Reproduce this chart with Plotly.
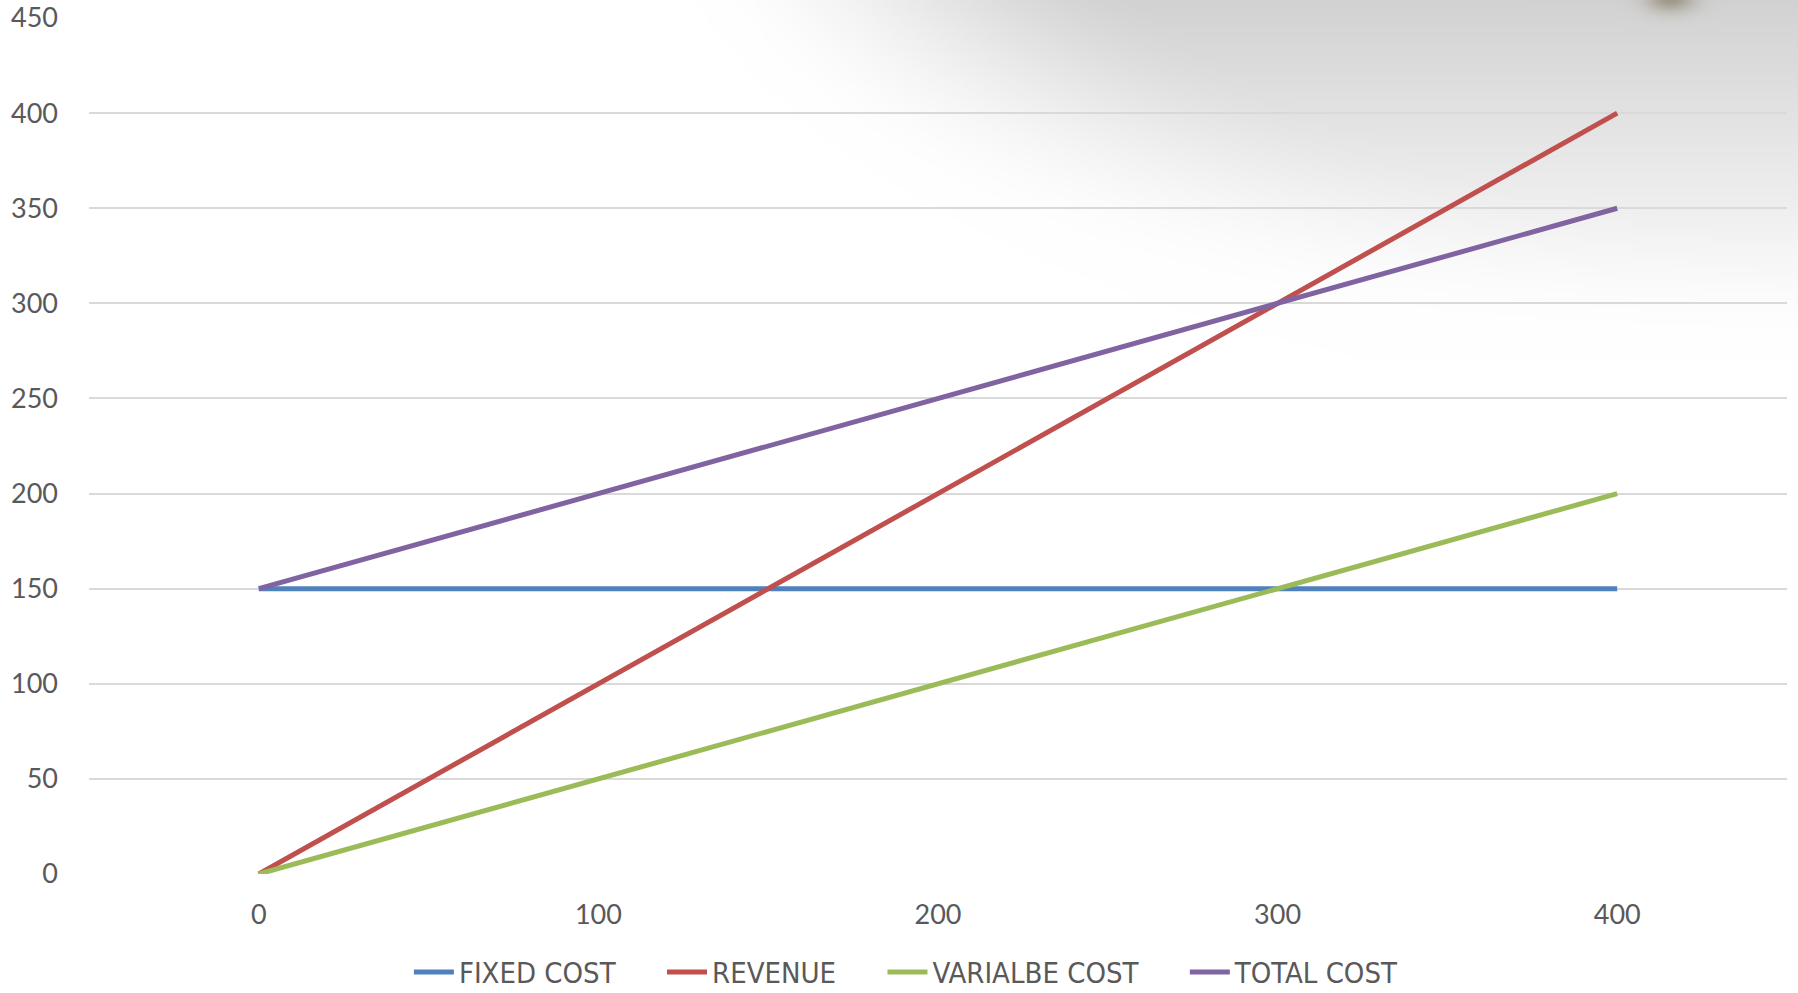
import base64
import struct
import zlib

import numpy as np
import plotly.graph_objects as go

# Break-even chart data
units = [0, 100, 200, 300, 400]
fixed_cost = [150, 150, 150, 150, 150]
revenue = [0, 100, 200, 300, 400]
variable_cost = [0, 50, 100, 150, 200]
total_cost = [150, 200, 250, 300, 350]

series_names = ["FIXED COST", "REVENUE", "VARIALBE COST", "TOTAL COST"]
series_colors = ["#4F81BD", "#C0504D", "#9BBB59", "#8064A2"]

W, H = 1798, 993
NBSP = "\u00a0"


def png_data_uri(rgb):
    """Encode an HxWx3 uint8 array as a PNG data URI."""
    h, w, _ = rgb.shape
    raw = b"".join(b"\x00" + rgb[i].tobytes() for i in range(h))

    def chunk(tag, data):
        c = struct.pack(">I", len(data)) + tag + data
        return c + struct.pack(">I", zlib.crc32(tag + data) & 0xFFFFFFFF)

    png = b"\x89PNG\r\n\x1a\n"
    png += chunk(b"IHDR", struct.pack(">IIBBBBB", w, h, 8, 2, 0, 0, 0))
    png += chunk(b"IDAT", zlib.compress(raw, 9))
    png += chunk(b"IEND", b"")
    return "data:image/png;base64," + base64.b64encode(png).decode()


def smoothstep(v):
    v = np.clip(v, 0, 1)
    return v * v * (3 - 2 * v)


# Soft grey backdrop in the upper-right corner
scale = 3
gw, gh = W // scale, H // scale
yy, xx = np.mgrid[0:gh, 0:gw].astype(float) * scale
d = np.sqrt(((xx - 1900) / 1250) ** 2 + ((yy + 150) / 560) ** 2)
edge = smoothstep((1 - d) / 0.35)
fall = np.clip(1 - yy / 360, 0, 1) ** 1.2
t = edge * fall
img = np.stack([255 - 45 * t] * 3, axis=-1)

# small ornament peeking in at the top edge
blob = np.exp(-(((xx - 1668) / 24) ** 2 + ((yy + 4) / 14) ** 2))
tint = np.array([130, 122, 96], dtype=float)
a = blob[..., None] * 0.7
img = img * (1 - a) + tint * a
backdrop = png_data_uri(np.clip(img, 0, 255).astype(np.uint8))

fig = go.Figure()
all_values = [fixed_cost, revenue, variable_cost, total_cost]
for i, (name, values, color) in enumerate(zip(series_names, all_values, series_colors)):
    label = name + (NBSP * 5 if i < len(series_names) - 1 else "")
    fig.add_trace(
        go.Scatter(
            x=units,
            y=values,
            name=label,
            mode="lines",
            line=dict(color=color, width=5, shape="linear"),
        )
    )

fig.update_layout(
    width=W,
    height=H,
    margin=dict(l=89, r=11, t=18, b=119, autoexpand=False),
    paper_bgcolor="white",
    plot_bgcolor="rgba(0,0,0,0)",
    font=dict(family="Lato, Open Sans, sans-serif", size=27, color="#595959"),
    showlegend=True,
    legend=dict(
        orientation="h",
        xref="container",
        yref="container",
        x=0.5044,
        xanchor="center",
        y=0.021,
        yanchor="middle",
        font=dict(
            family="Liberation Sans Narrow, DejaVu Sans Condensed, sans-serif",
            size=29,
            color="#595959",
        ),
        itemwidth=40,
        bgcolor="rgba(0,0,0,0)",
    ),
    images=[
        dict(
            source=backdrop,
            xref="paper",
            yref="paper",
            x=-89 / (W - 100),
            y=1 + 18 / (H - 137),
            sizex=W / (W - 100),
            sizey=H / (H - 137),
            xanchor="left",
            yanchor="top",
            sizing="stretch",
            layer="below",
        )
    ],
)

fig.update_xaxes(
    range=[-50, 450],
    tickvals=units,
    ticktext=[str(u) for u in units],
    showgrid=False,
    zeroline=False,
    showline=False,
    ticks="",
    ticklabelstandoff=22,
    automargin=False,
    fixedrange=True,
)
fig.update_yaxes(
    range=[0, 450],
    tickvals=list(range(0, 451, 50)),
    showgrid=True,
    gridcolor="#D9D9D9",
    gridwidth=2,
    zeroline=False,
    showline=False,
    ticks="",
    ticklabelstandoff=30,
    automargin=False,
    fixedrange=True,
)

fig.write_html("out.html")
